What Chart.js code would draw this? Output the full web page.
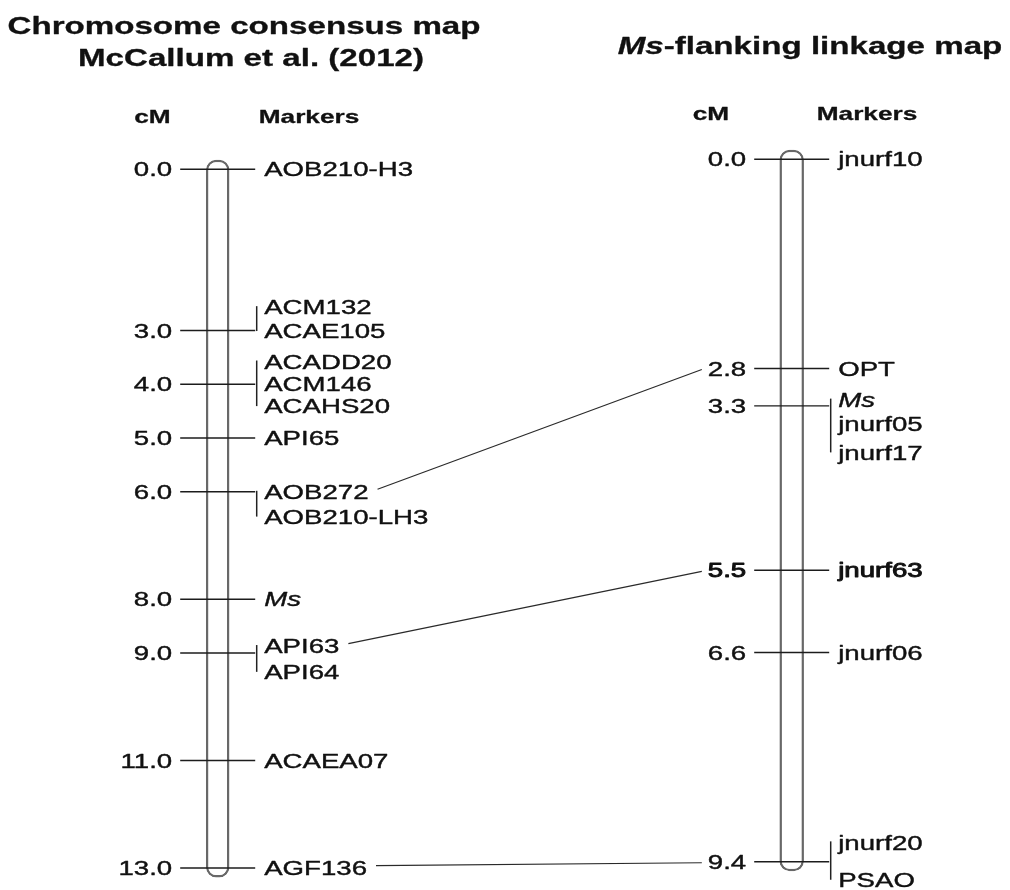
<!DOCTYPE html>
<html>
<head>
<meta charset="utf-8">
<title>Ms linkage maps</title>
<script src="https://cdn.jsdelivr.net/npm/chart.js@4.4.1/dist/chart.umd.min.js"></script>
<style>
  html, body { margin: 0; padding: 0; background: #ffffff; }
  canvas { display: block; }
</style>
</head>
<body>
<canvas id="map" width="1010" height="890"></canvas>
<script>
// ---- Data -------------------------------------------------------------
// Chromosome consensus map (McCallum et al. 2012): positions in cM
const consensusPositions = [0.0, 3.0, 4.0, 5.0, 6.0, 8.0, 9.0, 11.0, 13.0];
const consensusMarkers = [
  ["AOB210-H3"],
  ["ACM132", "ACAE105"],
  ["ACADD20", "ACM146", "ACAHS20"],
  ["API65"],
  ["AOB272", "AOB210-LH3"],
  ["Ms"],
  ["API63", "API64"],
  ["ACAEA07"],
  ["AGF136"]
];

// Ms-flanking linkage map: positions in cM
const flankingPositions = [0.0, 2.8, 3.3, 5.5, 6.6, 9.4];
const flankingMarkers = [
  ["jnurf10"],
  ["OPT"],
  ["Ms", "jnurf05", "jnurf17"],
  ["jnurf63"],
  ["jnurf06"],
  ["jnurf20", "PSAO"]
];

// Markers of the consensus map joined to a position on the flanking map
const bridgeMarkers = ["AOB272", "API63", "AGF136"];
const bridgeTargets = [2.8, 5.5, 9.4];

// Gene symbols set in italics
const italicMarkers = ["Ms"];

// Titles and column headings
const consensusTitle = ["Chromosome consensus map", "McCallum et al. (2012)"];
const flankingTitle = [["Ms", true], ["-flanking linkage map", false]];
const columnHeadings = ["cM", "Markers"];

// ---- Layout and style -------------------------------------------------
const FONT = "'Liberation Sans', Arial, sans-serif";
const STRETCH = 1.38;          // horizontal stretch applied to all lettering
const INK = "#111111";
const PAGE = { w: 1010, h: 890 };

const LAYOUT = {
  consensus: {
    axis: "yL", cx: 217.7, width: 23.5, top: 169.3, pxPerCM: 53.75,
    headings: [[152.5, 123], [309, 123]],
    // vertical offsets (px) of each stacked label from its tick
    labelOffsets: [[0], [-23.4, 0.5], [-22.8, 0, 21.8], [0], [0, 24.8], [0], [-7, 18.8], [0], [0]],
    emphasised: []
  },
  flanking: {
    axis: "yR", cx: 791.7, width: 24.5, top: 159.3, pxPerCM: 74.73,
    headings: [[711, 120], [867, 120]],
    labelOffsets: [[0], [0], [-6.3, 17.8, 46.5], [0], [0], [-19.4, 18]],
    emphasised: [5.5]
  }
};
const TICK_HALF = 37.5;
const NUM_GAP = 8;
const LABEL_GAP = 9;
const CAP_PAD = 9.5;           // rounded chromosome end beyond the outer markers (px)

const maps = [
  { positions: consensusPositions, markers: consensusMarkers, L: LAYOUT.consensus },
  { positions: flankingPositions, markers: flankingMarkers, L: LAYOUT.flanking }
];

// ---- Helpers ----------------------------------------------------------
function axisRange(L) {
  return { min: -L.top / L.pxPerCM, max: (PAGE.h - L.top) / L.pxPerCM };
}

function textWidth(ctx, str, font) {
  ctx.save();
  ctx.font = font;
  const w = ctx.measureText(str).width * STRETCH;
  ctx.restore();
  return w;
}

// draws stretched text; y is the vertical centre of capital letters
function drawText(ctx, str, x, yMid, align, size, opts = {}) {
  const font = (opts.italic ? "italic " : "") + (opts.bold ? "bold " : "") + size + "px " + FONT;
  const w = textWidth(ctx, str, font);
  const left = align === "right" ? x - w : align === "center" ? x - w / 2 : x;
  ctx.save();
  ctx.font = font;
  ctx.fillStyle = INK;
  ctx.textAlign = "left";
  ctx.textBaseline = "alphabetic";
  ctx.translate(left, yMid + size * 0.358);
  ctx.scale(STRETCH, 1);
  ctx.fillText(str, 0, 0);
  // a thin outline gives the lettering a slightly heavier weight
  ctx.strokeStyle = INK;
  ctx.lineJoin = "round";
  ctx.lineWidth = opts.heavy ? 0.9 : (opts.bold ? 0.3 : 0.4);
  ctx.strokeText(str, 0, 0);
  ctx.restore();
  return { left, right: left + w, width: w };
}

function segment(ctx, x1, y1, x2, y2, width, color) {
  ctx.save();
  ctx.beginPath();
  ctx.moveTo(x1, y1);
  ctx.lineTo(x2, y2);
  ctx.lineWidth = width;
  ctx.strokeStyle = color;
  ctx.stroke();
  ctx.restore();
}

// ---- Labels, brackets, bridges and titles -----------------------------
const mapAnnotations = {
  id: "mapAnnotations",
  afterDatasetsDraw(chart) {
    const ctx = chart.ctx;
    const xs = chart.scales.x;
    const labelEnds = {};
    const numberEdges = {};

    maps.forEach((m, mi) => {
      const ys = chart.scales[m.L.axis];
      const cx = xs.getPixelForValue(m.L.cx);
      m.positions.forEach((pos, i) => {
        const ty = ys.getPixelForValue(pos);
        const heavy = m.L.emphasised.includes(pos);
        const num = drawText(ctx, pos.toFixed(1), cx - TICK_HALF - NUM_GAP, ty, "right", 20, { heavy });
        if (mi === 1) numberEdges[pos] = { x: num.left, y: ty };
        const offs = m.L.labelOffsets[i];
        m.markers[i].forEach((name, j) => {
          const ly = ty + offs[j];
          const t = drawText(ctx, name, cx + TICK_HALF + LABEL_GAP, ly, "left", 20,
            { italic: italicMarkers.includes(name), heavy });
          if (mi === 0) labelEnds[name] = { x: t.right, y: ly };
        });
        if (m.markers[i].length > 1) {
          const bx = cx + TICK_HALF + 1.5;
          segment(ctx, bx, ty + offs[0] - 1, bx, ty + offs[offs.length - 1], 1.5, "#222222");
        }
      });
      // column headings
      columnHeadings.forEach((h, k) => {
        const [hx, hy] = m.L.headings[k];
        drawText(ctx, h, hx, hy - 7, "center", 19, { bold: true });
      });
    });

    // lines joining shared markers across the two maps
    bridgeMarkers.forEach((name, k) => {
      const a = labelEnds[name];
      const b = numberEdges[bridgeTargets[k]];
      if (!a || !b) return;
      segment(ctx, a.x + 9, a.y - 2.5, b.x - 6, b.y + 1, 1.2, "#2a2a2a");
    });

    // titles
    drawText(ctx, consensusTitle[0], 244, 25, "center", 24, { bold: true });
    drawText(ctx, consensusTitle[1], 251, 57, "center", 24, { bold: true });
    const parts = flankingTitle.map(([s, it]) => ({
      s, it, w: textWidth(ctx, s, (it ? "italic " : "") + "bold 24px " + FONT)
    }));
    let tx = 810 - parts.reduce((a, p) => a + p.w, 0) / 2;
    parts.forEach(p => {
      drawText(ctx, p.s, tx, 45, "left", 24, { bold: true, italic: p.it });
      tx += p.w;
    });
  }
};

// ---- Chart ------------------------------------------------------------
const datasets = [];
maps.forEach(m => {
  const last = m.positions[m.positions.length - 1];
  const pad = CAP_PAD / m.L.pxPerCM;
  // chromosome body
  datasets.push({
    type: "bar",
    yAxisID: m.L.axis,
    data: [{ x: m.L.cx, y: [m.positions[0] - pad, last + pad] }],
    grouped: false,
    maxBarThickness: m.L.width,
    backgroundColor: "#ffffff",
    borderColor: "#686868",
    borderWidth: 2.5,
    borderSkipped: false,
    borderRadius: 10,
    order: 2
  });
  // marker ticks
  datasets.push({
    type: "scatter",
    yAxisID: m.L.axis,
    data: m.positions.map(p => ({ x: m.L.cx, y: p })),
    pointStyle: "line",
    pointRadius: TICK_HALF,
    pointHoverRadius: TICK_HALF,
    pointBorderWidth: 1.4,
    pointBorderColor: "#1c1c1c",
    clip: false,
    order: 1
  });
});

const rL = axisRange(LAYOUT.consensus);
const rR = axisRange(LAYOUT.flanking);

new Chart(document.getElementById("map"), {
  type: "scatter",
  data: { datasets },
  options: {
    responsive: false,
    animation: false,
    events: [],
    layout: { padding: 0, autoPadding: false },
    plugins: { legend: { display: false }, tooltip: { enabled: false }, title: { display: false } },
    scales: {
      x: { type: "linear", min: 0, max: PAGE.w, display: false, offset: false },
      yL: { type: "linear", reverse: true, min: rL.min, max: rL.max, display: false },
      yR: { type: "linear", reverse: true, min: rR.min, max: rR.max, display: false }
    }
  },
  plugins: [mapAnnotations]
});
</script>
</body>
</html>
